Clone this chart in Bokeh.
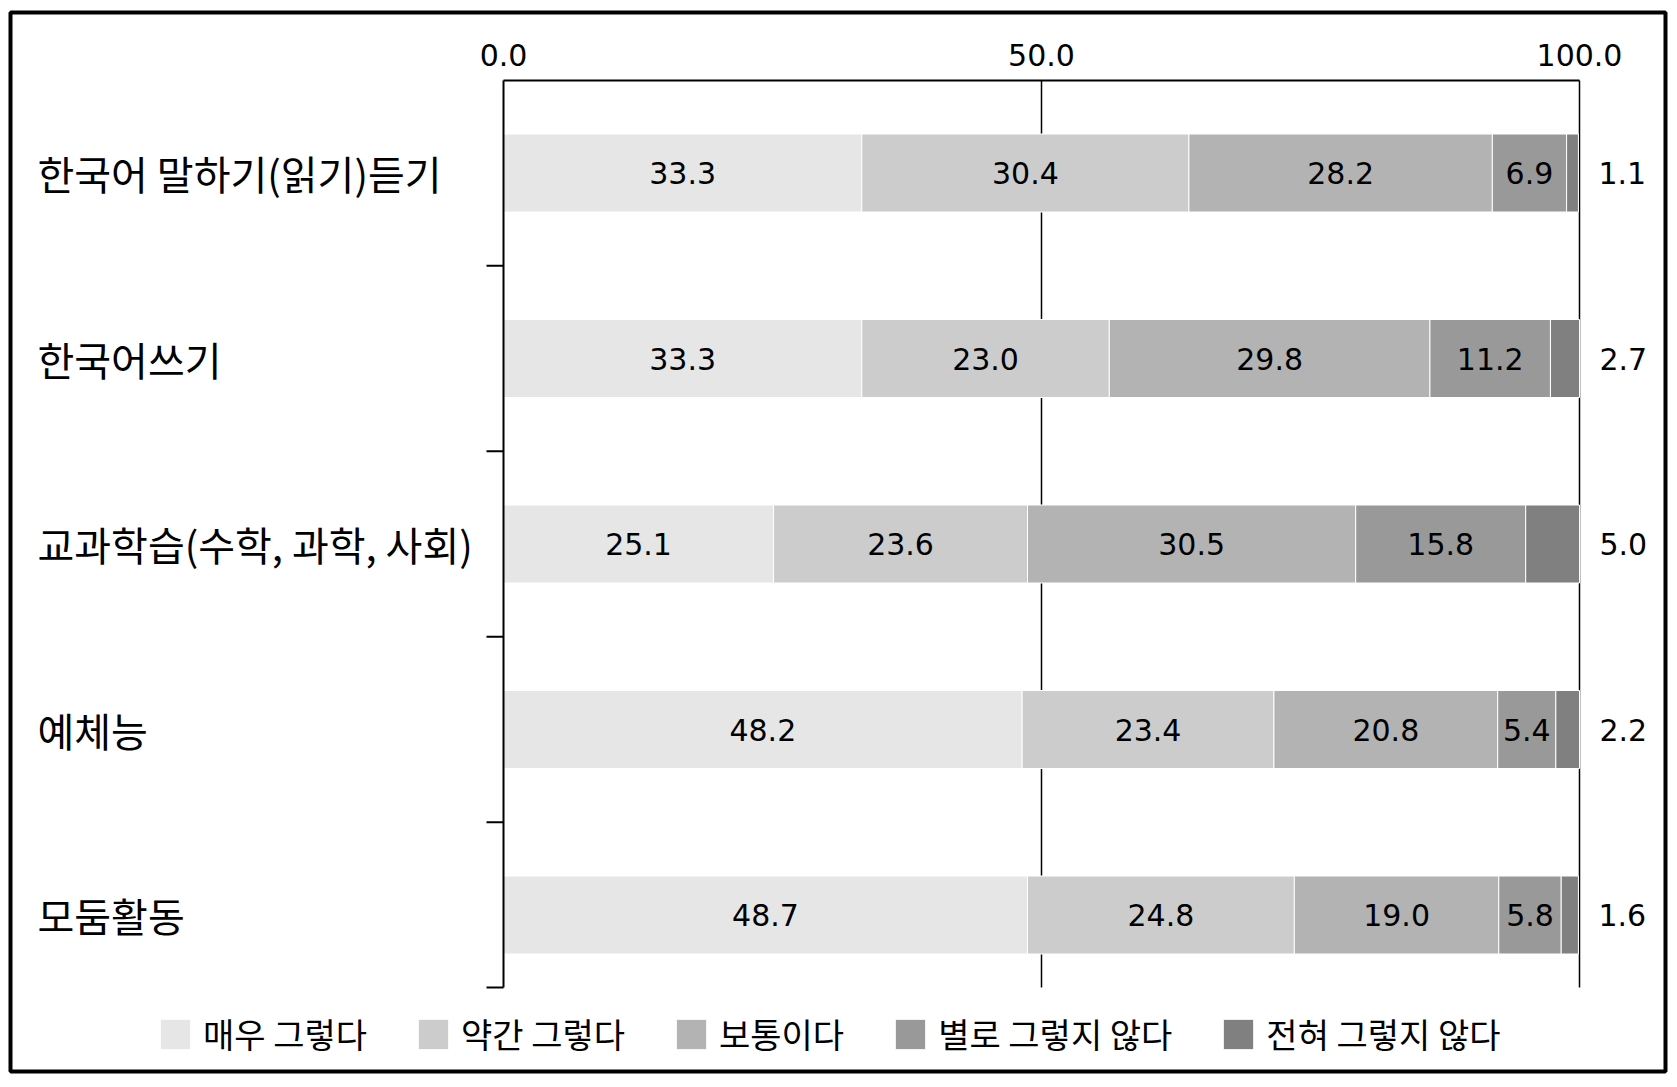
from math import pi
from bokeh.plotting import figure
from bokeh.models import Range1d, ColumnDataSource, Legend, LegendItem
from bokeh.core.properties import value
from bokeh.embed import file_html
from bokeh.resources import INLINE

# ---- data ----
categories = ["한국어 말하기(읽기)듣기", "한국어쓰기", "교과학습(수학, 과학, 사회)", "예체능", "모둠활동"]
series_names = ["매우 그렇다", "약간 그렇다", "보통이다", "별로 그렇지 않다", "전혀 그렇지 않다"]
very_yes = [33.3, 33.3, 25.1, 48.2, 48.7]
some_yes = [30.4, 23.0, 23.6, 23.4, 24.8]
neutral = [28.2, 29.8, 30.5, 20.8, 19.0]
not_much = [6.9, 11.2, 15.8, 5.4, 5.8]
not_at_all = [1.1, 2.7, 5.0, 2.2, 1.6]
x_ticks = [0, 50, 100]
x_tick_labels = ["0.0", "50.0", "100.0"]

series = [very_yes, some_yes, neutral, not_much, not_at_all]
colors = ["#e6e6e6", "#cccccc", "#b3b3b3", "#999999", "#808080"]

KFONT = "Noto Sans CJK KR"
NFONT = "DejaVu Sans"

# ---- layout (pixels) ----
W, H = 1677, 1087
FR_L, FR_R, FR_T, FR_B = 10, 1665, 12, 1071      # outer box = plot frame
AX0_PX, AX100_PX = 503, 1579                      # x=0 and x=100 positions
ROW0_PX, ROW_STEP = 172.5, 185.5                  # first row centre, row pitch
AX_TOP_PX, AX_BOT_PX = 80, 987                    # plot-area top / bottom

ppu = (AX100_PX - AX0_PX) / 100.0
x_lo = (FR_L - AX0_PX) / ppu
x_hi = (FR_R - AX0_PX) / ppu
y_top = (FR_T - ROW0_PX) / ROW_STEP
y_bot = (FR_B - ROW0_PX) / ROW_STEP
ax_top = (AX_TOP_PX - ROW0_PX) / ROW_STEP
ax_bot = (AX_BOT_PX - ROW0_PX) / ROW_STEP

ypos = list(range(len(categories)))

p = figure(width=W, height=H,
           x_range=Range1d(x_lo, x_hi), y_range=Range1d(y_bot, y_top),
           x_axis_type=None, y_axis_type=None,
           output_backend="svg", toolbar_location=None,
           min_border_left=FR_L, min_border_right=W - FR_R,
           min_border_top=FR_T, min_border_bottom=H - FR_B)
p.outline_line_color = "black"
p.outline_line_width = 4
p.background_fill_color = "white"
p.border_fill_color = "white"
p.grid.visible = False

# vertical reference lines at 50 and 100
p.segment(x0=[50, 100], y0=[ax_top, ax_top], x1=[50, 100], y1=[ax_bot, ax_bot],
          line_color="black", line_width=1.5)

# stacked bars
left = [0.0] * len(categories)
renderers = []
inner = dict(x=[], y=[], t=[])
outer = dict(x=[], y=[], t=[])
for si, (vals, col) in enumerate(zip(series, colors)):
    right = [l + v for l, v in zip(left, vals)]
    src = ColumnDataSource(dict(y=ypos, left=left, right=right))
    r = p.hbar(y="y", left="left", right="right", height=78 / ROW_STEP, source=src,
               fill_color=col, line_color="white", line_width=1)
    renderers.append(r)
    for i, v in enumerate(vals):
        if si < len(series) - 1:
            inner["x"].append((left[i] + right[i]) / 2)
            inner["y"].append(ypos[i])
            inner["t"].append(f"{v:.1f}")
        else:
            outer["x"].append(right[i])
            outer["y"].append(ypos[i])
            outer["t"].append(f"{v:.1f}")
    left = right

# axes lines (top and left)
p.segment(x0=[0, 0], y0=[ax_top, ax_top], x1=[100, 0], y1=[ax_top, ax_bot],
          line_color="black", line_width=2)
# category boundary ticks on the left axis
bounds = [i + 0.5 for i in ypos[:-1]] + [ax_bot]
p.ray(x=[0] * len(bounds), y=bounds, length=17, length_units="screen", angle=pi,
      line_color="black", line_width=2)

# top axis tick labels
p.text(x=x_ticks, y=[ax_top] * len(x_ticks), text=x_tick_labels, y_offset=-26,
       text_align="center", text_baseline="middle",
       text_font=value(NFONT), text_font_size="30px", text_color="black")

# value labels
p.text(x="x", y="y", text="t", source=ColumnDataSource(inner),
       text_align="center", text_baseline="middle",
       text_font=value(NFONT), text_font_size="30px", text_color="black")
p.text(x="x", y="y", text="t", source=ColumnDataSource(outer), x_offset=20,
       text_align="left", text_baseline="middle",
       text_font=value(NFONT), text_font_size="30px", text_color="black")

# category labels (left aligned at the chart's left margin)
p.text(x=[0] * len(categories), y=ypos, text=categories, x_offset=37 - AX0_PX,
       text_align="left", text_baseline="middle",
       text_font=value(KFONT), text_font_size="40px", text_color="black")

legend = Legend(items=[LegendItem(label=n, renderers=[r]) for n, r in zip(series_names, renderers)],
                orientation="horizontal", location=(146, 13),
                glyph_width=38, glyph_height=38, label_standoff=9, spacing=47,
                padding=0, margin=0, border_line_color=None, background_fill_alpha=0,
                label_text_font=KFONT, label_text_font_size="34px", label_text_color="black")
p.add_layout(legend)

open("out.html", "w").write(file_html(p, INLINE))
